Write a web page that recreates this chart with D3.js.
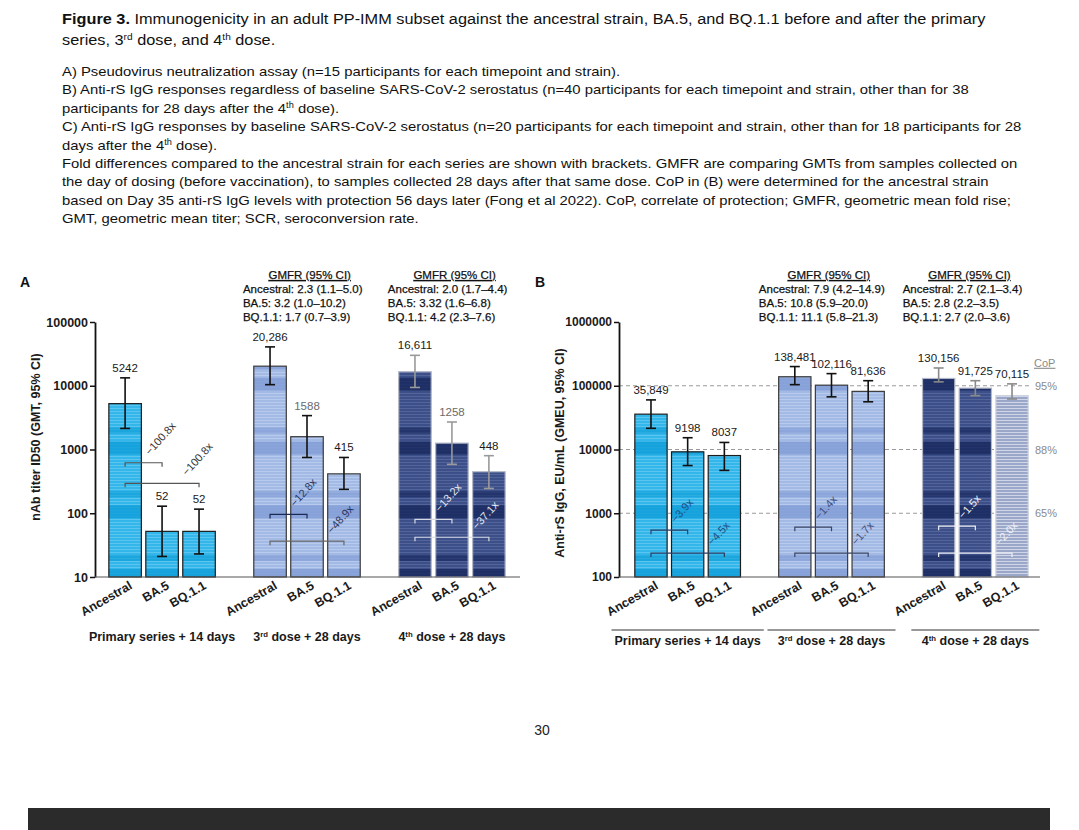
<!DOCTYPE html>
<html><head><meta charset="utf-8">
<script src="https://cdn.jsdelivr.net/npm/d3@7"></script>
<style>
html,body{margin:0;padding:0;background:#fff;}
svg{display:block;font-family:"Liberation Sans",Arial,sans-serif;}
</style></head><body>
<svg id="chart" width="1079" height="830"></svg>
<script>
// ---------------- DATA ----------------
const strains = ["Ancestral", "BA.5", "BQ.1.1"];
const timepointsA = ["Primary series + 14 days", "3^{rd} dose + 28 days", "4^{th} dose + 28 days"];
const timepointsB = ["Primary series + 14 days", "3^{rd} dose + 28 days", "4^{th} dose + 28 days"];

const yTicksA = [10, 100, 1000, 10000, 100000];
const yTicksB = [100, 1000, 10000, 100000, 1000000];

// Panel A: pseudovirus neutralization (nAb titer ID50 GMT, 95% CI)
const gmtA    = [[5242, 52, 52], [20286, 1588, 415], [16611, 1258, 448]];
const ciLowA  = [[2140, 21, 23], [10400, 750, 237], [9400, 585, 245]];
const ciHighA = [[13300, 129, 116], [40700, 3400, 750], [30000, 2700, 800]];
const foldA   = [["−100.8x", "−100.8x"], ["−12.8x", "−48.9x"], ["−13.2x", "−37.1x"]];
const foldLevelA = [[620, 295], [96, 36.5], [80, 42]];
const gmfrA = [null,
  ["Ancestral: 2.3 (1.1–5.0)", "BA.5: 3.2 (1.0–10.2)", "BQ.1.1: 1.7 (0.7–3.9)"],
  ["Ancestral: 2.0 (1.7–4.4)", "BA.5: 3.32 (1.6–6.8)", "BQ.1.1: 4.2 (2.3–7.6)"]];

// Panel B: anti-rS IgG (EU/mL, GMEU, 95% CI)
const gmtB    = [[35849, 9198, 8037], [138481, 102116, 81636], [130156, 91725, 70115]];
const ciLowB  = [[21500, 5600, 4700], [104000, 67000, 56000], [115000, 70000, 62000]];
const ciHighB = [[60000, 15300, 12900], [200000, 155000, 120000], [190000, 120000, 107000]];
const foldB   = [["−3.9x", "−4.5x"], ["−1.4x", "−1.7x"], ["−1.5x", "−2.0x"]];
const foldLevelB = [[543, 237], [604, 237], [626, 237]];
const gmfrB = [null,
  ["Ancestral: 7.9 (4.2–14.9)", "BA.5: 10.8 (5.9–20.0)", "BQ.1.1: 11.1 (5.8–21.3)"],
  ["Ancestral: 2.7 (2.1–3.4)", "BA.5: 2.8 (2.2–3.5)", "BQ.1.1: 2.7 (2.0–3.6)"]];
const copLabels = ["95%", "88%", "65%"];
const copValues = [100000, 10000, 1000];

const headerTitle = ["**Figure 3.** Immunogenicity in an adult PP-IMM subset against the ancestral strain, BA.5, and BQ.1.1 before and after the primary",
  "series, 3^{rd} dose, and 4^{th} dose."];
const headerBody = [
  "A) Pseudovirus neutralization assay (n=15 participants for each timepoint and strain).",
  "B) Anti-rS IgG responses regardless of baseline SARS-CoV-2 serostatus (n=40 participants for each timepoint and strain, other than for 38",
  "participants for 28 days after the 4^{th} dose).",
  "C) Anti-rS IgG responses by baseline SARS-CoV-2 serostatus (n=20 participants for each timepoint and strain, other than for 18 participants for 28",
  "days after the 4^{th} dose).",
  "Fold differences compared to the ancestral strain for each series are shown with brackets. GMFR are comparing GMTs from samples collected on",
  "the day of dosing (before vaccination), to samples collected 28 days after that same dose. CoP in (B) were determined for the ancestral strain",
  "based on Day 35 anti-rS IgG levels with protection 56 days later (Fong et al 2022). CoP, correlate of protection; GMFR, geometric mean fold rise;",
  "GMT, geometric mean titer; SCR, seroconversion rate."];

// ---------------- HELPERS ----------------
const svg = d3.select("#chart");
svg.append("rect").attr("width", 1079).attr("height", 830).attr("fill", "#fff");
const defs = svg.append("defs");

function rich(sel, str, supShift) {
  const parts = str.split(/(\*\*[^*]+\*\*|\^\{[^}]+\})/g).filter(s => s.length);
  let pending = 0;
  parts.forEach(p => {
    let t;
    if (p.startsWith("**")) { t = sel.append("tspan").attr("font-weight", "bold").text(p.slice(2, -2)); }
    else if (p.startsWith("^{")) { t = sel.append("tspan").attr("font-size", "0.62em").attr("dy", -supShift).text(p.slice(2, -1)); pending = supShift; return; }
    else { t = sel.append("tspan").text(p); }
    if (pending) { t.attr("dy", pending); pending = 0; }
  });
  return sel;
}
const fmtVal = v => v >= 10000 ? d3.format(",")(v) : String(v);

const palette = {
  cyan:  {base: "#33b6e9", stripe: "#5cc5ef", band: "#0e9ed9", stroke: "#1c1c1c"},
  lblue: {base: "#a3bae5", stripe: "#b8caed", band: "#7f9bd6", stroke: "#3a3a3a"},
  navy:  {base: "#3d4f88", stripe: "#53649b", band: "#16275e", stroke: "#b3b8c8"},
  lav:   {base: "#9ba7c9", stripe: "#d0d6e7", band: null, stroke: "#cdd2de"}
};

// ---------------- HEADER ----------------
const hdr = svg.append("g");
const titleG = hdr.append("g");
headerTitle.forEach((l, i) => {
  rich(titleG.append("text").attr("x", 0).attr("y", 24 + i * 21).attr("font-size", 14.5).attr("fill", "#111"), l, 5);
});
const bodyG = hdr.append("g");
headerBody.forEach((l, i) => {
  rich(bodyG.append("text").attr("x", 0).attr("y", 76 + i * 18.4).attr("font-size", 13.5).attr("fill", "#111"), l, 5);
});
const tW = titleG.select("text").node().getComputedTextLength();
titleG.attr("transform", `translate(62,0) scale(${924 / tW},1)`);
const bW = bodyG.selectAll("text").nodes()[3].getComputedTextLength();
bodyG.attr("transform", `translate(62,0) scale(${960 / bW},1)`);

// ---------------- PATTERNS ----------------
const y0 = 577, y1 = 322;
const decadePx = (y0 - y1) / 4;
Object.entries(palette).forEach(([k, c]) => {
  const p = defs.append("pattern").attr("id", "st-" + k).attr("patternUnits", "userSpaceOnUse")
    .attr("width", 4).attr("height", 3);
  p.append("rect").attr("width", 4).attr("height", 3).attr("fill", c.base);
  p.append("rect").attr("width", 4).attr("height", 1).attr("fill", c.stripe);
  if (c.band) {
    const b = defs.append("pattern").attr("id", "bd-" + k).attr("patternUnits", "userSpaceOnUse")
      .attr("width", 4).attr("height", decadePx).attr("y", y0 - 8);
    b.append("rect").attr("y", 0).attr("width", 4).attr("height", 13).attr("fill", c.band).attr("opacity", 0.8);
    b.append("rect").attr("y", decadePx - 14).attr("width", 4).attr("height", 6).attr("fill", c.band).attr("opacity", 0.65);
  }
});

// ---------------- PANELS ----------------
function drawPanel(p) {
  const g = svg.append("g");
  const y = d3.scaleLog().domain(p.yDomain).range([y0, y1]);
  const x0 = d3.scaleBand().domain(d3.range(p.gmt.length)).range(p.xRange).paddingInner(0.24).paddingOuter(0);
  const x1 = d3.scaleBand().domain(strains).range([0, x0.bandwidth()]).paddingInner(0.12).paddingOuter(0.05);
  const cx = (gi, s) => x0(gi) + x1(s) + x1.bandwidth() / 2;

  // CoP dashed lines (behind bars)
  if (p.cop) {
    const cg = g.append("g");
    p.cop.values.forEach((v, i) => {
      cg.append("line").attr("x1", p.axisX).attr("x2", p.copEnd).attr("y1", y(v)).attr("y2", y(v))
        .attr("stroke", "#9a9a9a").attr("stroke-width", 1).attr("stroke-dasharray", "4,3");
      cg.append("text").attr("x", p.copEnd + 3).attr("y", y(v) + 4).attr("font-size", 11)
        .attr("fill", "#8a8a8a").text(p.cop.labels[i]);
    });
    cg.append("text").attr("x", p.copEnd + 2).attr("y", y(p.cop.values[0]) - 19).attr("font-size", 11)
      .attr("fill", "#8a8a8a").attr("text-decoration", "underline").text("CoP");
  }

  // bars
  p.gmt.forEach((row, gi) => {
    row.forEach((v, si) => {
      const s = strains[si];
      const key = p.colors[gi][si];
      const c = palette[key];
      const bx = x0(gi) + x1(s), by = y(v), bw = x1.bandwidth(), bh = y(p.yDomain[0]) - y(v);
      g.append("rect").attr("x", bx).attr("y", by).attr("width", bw).attr("height", bh).attr("fill", `url(#st-${key})`);
      if (c.band) g.append("rect").attr("x", bx).attr("y", by).attr("width", bw).attr("height", bh).attr("fill", `url(#bd-${key})`);
      g.append("rect").attr("x", bx).attr("y", by).attr("width", bw).attr("height", bh)
        .attr("fill", "none").attr("stroke", c.stroke).attr("stroke-width", 1.2);
    });
  });

  // error bars + value labels
  p.gmt.forEach((row, gi) => {
    row.forEach((v, si) => {
      const s = strains[si], x = cx(gi, s);
      const lo = y(p.lo[gi][si]), hi = y(p.hi[gi][si]);
      const col = p.errColor[gi];
      g.append("line").attr("x1", x).attr("x2", x).attr("y1", lo).attr("y2", hi).attr("stroke", col).attr("stroke-width", 1.6);
      [lo, hi].forEach(yy => g.append("line").attr("x1", x - 5).attr("x2", x + 5).attr("y1", yy).attr("y2", yy)
        .attr("stroke", col).attr("stroke-width", 1.6));
      g.append("text").attr("x", x).attr("y", hi - 6).attr("text-anchor", "middle").attr("font-size", 11.5)
        .attr("fill", p.grayLabels.includes(gi + "-" + si) ? "#6a6a6a" : "#1a1a1a").text(fmtVal(v));
    });
  });

  // fold-difference brackets
  p.fold.forEach((pair, gi) => {
    pair.forEach((lab, k) => {
      const xa = cx(gi, strains[0]), xb = cx(gi, strains[k + 1]);
      const yy = y(p.foldLevels[gi][k]);
      g.append("path").attr("d", `M${xa},${yy + 4}V${yy}H${xb}V${yy + 4}`).attr("fill", "none")
        .attr("stroke", p.bracketColor[gi][k]).attr("stroke-width", 1.2);
      g.append("text").attr("transform", `translate(${xb - 12},${yy - 7}) rotate(-48)`)
        .attr("font-size", 11).attr("fill", p.foldColor[gi][k]).text(lab);
    });
  });

  // GMFR blocks
  p.gmfr.forEach((lines, gi) => {
    if (!lines) return;
    const left = x0(gi) + p.gmfrDx;
    const bg = g.append("g");
    let maxW = 0;
    lines.forEach((l, i) => {
      const t = bg.append("text").attr("x", left).attr("y", 293 + i * 14).attr("font-size", 11.5)
        .attr("fill", "#111").attr("stroke", "#111").attr("stroke-width", 0.25).text(l);
      maxW = Math.max(maxW, t.node().getComputedTextLength());
    });
    bg.append("text").attr("x", left + maxW / 2 + 7).attr("y", 279).attr("text-anchor", "middle")
      .attr("font-size", 11.5).attr("fill", "#111").attr("stroke", "#111").attr("stroke-width", 0.25)
      .attr("text-decoration", "underline").text("GMFR (95% CI)");
  });

  // axes
  const ax = g.append("g").attr("transform", `translate(${p.axisX},0)`)
    .call(d3.axisLeft(y).tickValues(p.yTicks).tickFormat(d => String(d)).tickSize(5).tickSizeOuter(0));
  ax.select(".domain").attr("stroke", "#111").attr("stroke-width", 1.8);
  ax.selectAll(".tick line").attr("stroke", "#111").attr("stroke-width", 1.5);
  ax.selectAll(".tick text").attr("font-size", p.tickFont).attr("font-weight", "bold").attr("fill", "#1a1a1a")
    .attr("font-family", '"Liberation Sans",Arial,sans-serif').attr("x", -7);
  g.append("line").attr("x1", p.axisX).attr("x2", p.xEnd).attr("y1", y0).attr("y2", y0)
    .attr("stroke", "#555").attr("stroke-width", 1.2);

  // rotated strain labels
  p.gmt.forEach((row, gi) => {
    strains.forEach(s => {
      g.append("text").attr("transform", `translate(${cx(gi, s) + 8},${y0 + 11}) rotate(-30)`)
        .attr("text-anchor", "end").attr("font-size", 12.5).attr("font-weight", "bold").attr("fill", "#1a1a1a").text(s);
    });
  });

  // timepoint labels
  p.timepoints.forEach((tp, gi) => {
    const c = x0(gi) + x0.bandwidth() / 2;
    const t = g.append("text").attr("x", c).attr("y", p.tpY).attr("text-anchor", "middle")
      .attr("font-size", 12.5).attr("font-weight", "bold").attr("fill", "#1a1a1a");
    rich(t, tp, 4);
    if (p.tpLine) {
      const w = Math.max(t.node().getComputedTextLength() + 6, 128);
      g.append("line").attr("x1", c - w / 2).attr("x2", c + w / 2).attr("y1", p.tpY - 15).attr("y2", p.tpY - 15)
        .attr("stroke", "#333").attr("stroke-width", 1);
    }
  });

  // axis title & panel label
  g.append("text").attr("transform", `translate(${p.titleX},${p.titleY}) rotate(-90)`).attr("text-anchor", "middle")
    .attr("font-size", 12.5).attr("font-weight", "bold").attr("fill", "#1a1a1a").text(p.yTitle);
  g.append("text").attr("x", p.panelX).attr("y", 287).attr("font-size", 14).attr("font-weight", "bold")
    .attr("fill", "#111").text(p.panel);
}

drawPanel({
  panel: "A", panelX: 20, yDomain: [10, 100000], yTicks: yTicksA, axisX: 95, xRange: [107, 507], xEnd: 520,
  gmt: gmtA, lo: ciLowA, hi: ciHighA, fold: foldA, foldLevels: foldLevelA, gmfr: gmfrA, gmfrDx: -9,
  timepoints: timepointsA, tpY: 641, tpLine: false, tickFont: 12.5,
  yTitle: "nAb titer ID50 (GMT, 95% CI)", titleX: 40, titleY: 437,
  colors: [["cyan", "cyan", "cyan"], ["lblue", "lblue", "lblue"], ["navy", "navy", "navy"]],
  errColor: ["#111", "#111", "#9a9a9a"], grayLabels: ["1-1", "2-1"],
  bracketColor: [["#555", "#555"], ["#1c2b55", "#666"], ["#d6d9e4", "#d6d9e4"]],
  foldColor: [["#333", "#333"], ["#2a3560", "#2a3560"], ["#e6e9f2", "#e6e9f2"]]
});
drawPanel({
  panel: "B", panelX: 535, yDomain: [100, 1000000], yTicks: yTicksB, axisX: 619, xRange: [633, 1030], xEnd: 1040,
  gmt: gmtB, lo: ciLowB, hi: ciHighB, fold: foldB, foldLevels: foldLevelB, gmfr: gmfrB, gmfrDx: -18,
  timepoints: timepointsB, tpY: 645, tpLine: true, tickFont: 12,
  yTitle: "Anti-rS IgG, EU/mL (GMEU, 95% CI)", titleX: 564, titleY: 453,
  cop: {labels: copLabels, values: copValues}, copEnd: 1032,
  colors: [["cyan", "cyan", "cyan"], ["lblue", "lblue", "lblue"], ["navy", "navy", "lav"]],
  errColor: ["#111", "#111", "#8a8a8a"], grayLabels: [],
  bracketColor: [["#2b3f66", "#2b3f66"], ["#3a4566", "#3a4566"], ["#eef0f6", "#eef0f6"]],
  foldColor: [["#1d4f86", "#1d4f86"], ["#3f4d7a", "#3f4d7a"], ["#f0f2f8", "#f0f2f8"]]
});

// ---------------- FOOTER ----------------
svg.append("text").attr("x", 542).attr("y", 735).attr("text-anchor", "middle").attr("font-size", 14)
  .attr("fill", "#222").text("30");
svg.append("rect").attr("x", 28).attr("y", 808).attr("width", 1022).attr("height", 22).attr("fill", "#2b2b2b");
</script>
</body></html>
